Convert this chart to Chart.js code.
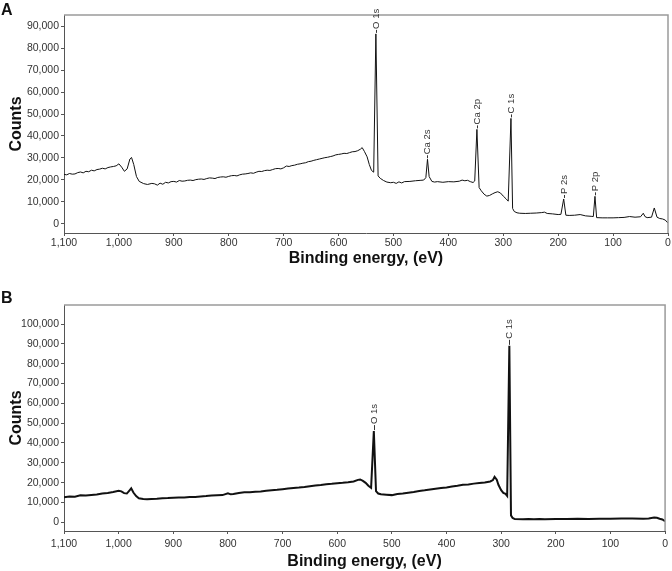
<!DOCTYPE html>
<html>
<head>
<meta charset="utf-8">
<title>XPS survey spectra</title>
<script src="https://cdn.jsdelivr.net/npm/chart.js@4.4.1/dist/chart.umd.min.js"></script>
<style>
  body { margin: 0; background: #fff; }
  #wrap { position: relative; width: 672px; height: 571px; overflow: hidden; }
  .panel { position: absolute; left: 0; width: 672px; }
  .tag { position: absolute; left: 1px; font: bold 16px 'Liberation Sans', Arial, sans-serif; color: #111; line-height: 18px; }
</style>
</head>
<body>
<div id="wrap">
  <div class="panel" style="top:0;height:268px"><canvas id="chartA" width="672" height="268"></canvas></div>
  <div class="panel" style="top:285px;height:286px"><canvas id="chartB" width="672" height="286"></canvas></div>
  <div class="tag" style="top:1px">A</div>
  <div class="tag" style="top:289px">B</div>
</div>
<script>
// Panel A spectrum (binding energy in eV, counts)
const energyA = [
    1100,1095,1090,1085,1080,1075,1070,1065,1060,1055,1050,1045,1040,1035,1030,1025,1020,1015,1010,1005,
    1000,995,990,985,980,977,973,968,963,955,948,940,935,930,925,920,915,910,905,
    900,895,890,885,880,875,870,865,860,855,850,845,840,835,830,825,820,815,810,805,
    800,795,790,785,780,775,770,765,760,755,750,745,740,735,730,725,720,715,710,705,
    700,695,690,685,680,675,670,665,660,655,650,645,640,635,630,625,620,615,610,605,
    600,595,590,585,580,575,570,565,560,557,553,548,544,540,536,532,528,524,518,512,505,
    500,495,490,485,480,470,460,450,445,441,438,435,430,425,420,410,
    400,390,380,375,370,365,360,355,352,348,344,340,335,330,325,320,315,310,305,
    300,295,291,286,283,280,275,270,260,250,240,230,225,220,210,
    200,195,190,186,180,170,160,150,140,136,133,130,120,110,
    100,90,80,70,60,50,45,42,38,30,25,20,15,10,5,0];
const countsA = [
    22500,22300,22900,22600,22700,23300,23600,23200,23900,23700,24400,24100,24700,24900,25300,25000,25600,25900,26100,26400,
    27300,25800,23900,25000,29500,30200,27000,21500,19300,18300,17900,18400,18200,17600,18500,18000,18900,18600,19200,
    19300,19000,19700,19400,19500,19800,19900,19700,20100,20300,20400,20200,20600,20900,20800,20600,21100,21300,21400,21200,
    21600,21900,22000,21800,22300,22600,22700,22900,23200,23000,23500,23900,23800,24200,24400,24300,24700,25100,25200,25000,
    25500,26300,26100,26500,26700,27100,27300,27600,27800,28300,28500,28900,29200,29500,29800,30100,30300,30600,30900,31400,
    31600,31800,32100,32000,32400,32800,32900,33300,34000,34700,33000,30500,27000,24300,23500,86500,21800,20700,19700,19000,18700,
    18900,18400,19100,18600,19200,19300,19600,19800,19900,21000,29400,21500,19300,19000,19200,18900,
    19200,19100,19400,19900,19600,19800,19200,18800,19500,43000,16500,15000,13500,12600,12900,13600,14200,14600,14000,
    12600,11400,10300,48000,7000,5600,5000,4800,4700,4800,4900,5100,5300,4700,4500,
    4200,4300,11300,3900,3800,3900,4200,3600,3400,3300,12500,2800,2700,2700,
    2700,2800,2900,3300,3000,3200,4800,3300,2800,3000,7200,3000,2400,2200,1700,300];

// Panel B spectrum
const energyB = [
    1100,1090,1080,1070,1060,1050,1040,1030,1020,1010,1000,995,990,985,980,977,973,968,963,955,948,940,930,920,910,
    900,890,880,870,860,850,840,830,820,810,800,795,790,780,770,760,750,740,730,720,710,
    700,690,680,670,660,650,640,630,620,610,600,590,580,570,562,558,553,548,543,538,533,529,525,520,510,
    500,490,480,470,460,450,440,430,420,410,400,390,380,370,360,350,340,330,320,315,312,308,305,
    300,296,292,289,285,282,279,275,260,250,240,230,220,200,180,160,140,120,100,80,60,40,30,20,15,10,5,0];
const countsB = [
    12600,13000,12900,13600,13500,13800,14000,14500,14800,15300,15900,15600,14700,14500,16100,17100,15000,13200,12100,11700,11600,11800,11900,12100,12200,
    12400,12500,12500,12800,12700,13000,13200,13500,13600,13700,14600,14100,14300,14800,15100,15200,15400,15500,15900,16200,16400,
    16700,17000,17300,17500,17800,18200,18500,18800,19200,19400,19700,19900,20200,20600,21400,21600,20900,19900,18400,17400,46000,15700,14500,14100,13900,
    13700,14300,14500,14900,15300,15800,16100,16500,16900,17300,17600,18000,18400,18900,19100,19500,19800,20100,20600,21300,22900,21500,18900,
    16200,14800,14300,13300,89000,3500,2200,1600,1500,1700,1500,1600,1500,1600,1600,1800,1700,1800,1800,1900,1900,1800,1900,2400,2300,1800,1400,500];

// Peak labels
const peakNamesA = ['O 1s', 'Ca 2s', 'Ca 2p', 'C 1s', 'P 2s', 'P 2p'];
const peakEnergyA = [532, 438, 348, 286, 190, 133];
const peakCountsA = [86500, 29400, 43000, 48000, 11300, 12500];
const peakNamesB = ['O 1s', 'C 1s'];
const peakEnergyB = [533, 285];
const peakCountsB = [46000, 89000];

// Axis ticks
const xTicks = [1100, 1000, 900, 800, 700, 600, 500, 400, 300, 200, 100, 0];
const yTicksA = [0, 10000, 20000, 30000, 40000, 50000, 60000, 70000, 80000, 90000];
const yTicksB = [0, 10000, 20000, 30000, 40000, 50000, 60000, 70000, 80000, 90000, 100000];

const FONT = "'Liberation Sans', Arial, Helvetica, sans-serif";

// draws top/right frame and the peak labels
const extrasPlugin = {
    id: 'extras',
    afterDatasetsDraw(chart, args, opts) {
        const { ctx, chartArea: a, scales } = chart;
        ctx.save();
        ctx.strokeStyle = '#9a9a9a';
        ctx.lineWidth = 1.5;
        ctx.beginPath();
        ctx.moveTo(a.left, a.top);
        ctx.lineTo(a.right, a.top);
        ctx.lineTo(a.right, a.bottom);
        ctx.stroke();

        ctx.strokeStyle = '#333';
        ctx.fillStyle = '#333';
        ctx.lineWidth = 1;
        ctx.font = '9.5px ' + FONT;
        ctx.textAlign = 'left';
        ctx.textBaseline = 'middle';
        opts.names.forEach((name, i) => {
            const px = Math.round(scales.x.getPixelForValue(opts.energy[i])) + 0.5;
            const py = scales.y.getPixelForValue(opts.counts[i]);
            ctx.beginPath();
            ctx.moveTo(px, py - 1);
            ctx.lineTo(px, py - opts.dash);
            ctx.stroke();
            ctx.save();
            ctx.translate(px, py - opts.dash - 1);
            ctx.rotate(-Math.PI / 2);
            ctx.fillText(name, 0, 0);
            ctx.restore();
        });
        ctx.restore();
    }
};

function makeChart(id, energy, counts, lineWidth, yMin, yMax, yTicks, names, peakE, peakC, pad) {
    const points = energy.map((e, i) => ({ x: e, y: counts[i] }));
    return new Chart(document.getElementById(id), {
        type: 'line',
        data: {
            datasets: [{
                data: points,
                borderColor: '#111',
                borderWidth: lineWidth,
                pointRadius: 0,
                tension: 0,
                fill: false
            }]
        },
        options: {
            responsive: false,
            animation: false,
            devicePixelRatio: 1,
            layout: { padding: { top: pad.top, right: 4, left: 0, bottom: 0 } },
            plugins: {
                legend: { display: false },
                tooltip: { enabled: false },
                extras: { names: names, energy: peakE, counts: peakC, dash: pad.dash }
            },
            scales: {
                x: {
                    type: 'linear',
                    reverse: true,
                    min: 0,
                    max: 1100,
                    afterBuildTicks: s => { s.ticks = xTicks.map(v => ({ value: v })); },
                    afterFit: s => { s.height = pad.xh; },
                    border: { color: '#555', width: 1 },
                    grid: { drawOnChartArea: false, tickLength: 3, color: '#555' },
                    ticks: {
                        padding: pad.xtp,
                        maxRotation: 0,
                        color: '#333',
                        font: { family: FONT, size: 10.5 },
                        callback: v => v.toLocaleString('en-US')
                    },
                    title: {
                        display: true,
                        text: 'Binding energy, (eV)',
                        color: '#111',
                        font: { family: FONT, size: 16, weight: 'bold' },
                        padding: { top: 0, bottom: 0 }
                    }
                },
                y: {
                    min: yMin,
                    max: yMax,
                    afterBuildTicks: s => { s.ticks = yTicks.map(v => ({ value: v })); },
                    afterFit: s => { s.width = 64; },
                    border: { color: '#555', width: 1 },
                    grid: { drawOnChartArea: false, tickLength: 3, color: '#555' },
                    ticks: {
                        padding: 2,
                        color: '#333',
                        font: { family: FONT, size: 10.5 },
                        callback: v => v.toLocaleString('en-US')
                    },
                    title: {
                        display: true,
                        text: 'Counts',
                        color: '#111',
                        font: { family: FONT, size: 16, weight: 'bold' },
                        padding: { top: 7, bottom: 0 }
                    }
                }
            }
        },
        plugins: [extrasPlugin]
    });
}

makeChart('chartA', energyA, countsA, 1, -4200, 95100, yTicksA,
    peakNamesA, peakEnergyA, peakCountsA, { top: 15, xh: 35, xtp: 1, dash: 4 });
makeChart('chartB', energyB, countsB, 2, -4400, 109600, yTicksB,
    peakNamesB, peakEnergyB, peakCountsB, { top: 20, xh: 40, xtp: 4, dash: 6 });
</script>
</body>
</html>
